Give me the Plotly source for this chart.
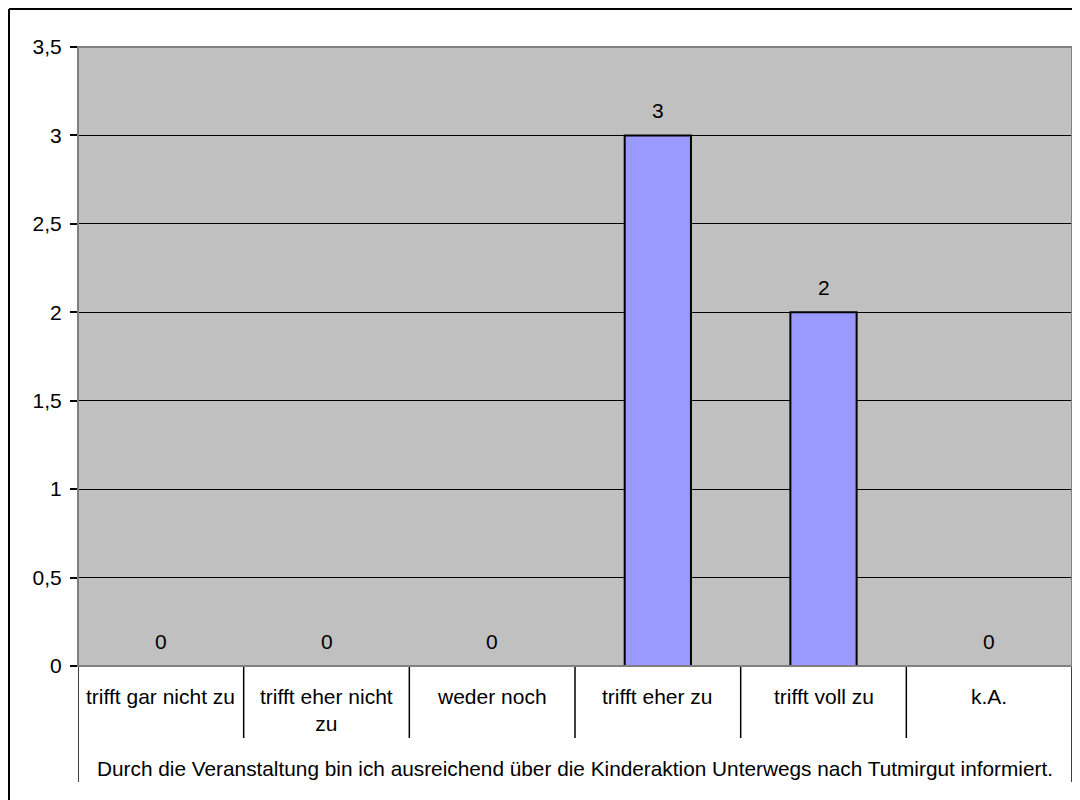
import plotly.graph_objects as go

categories = ["trifft gar nicht zu", "trifft eher nicht<br>zu", "weder noch",
              "trifft eher zu", "trifft voll zu", "k.A."]
values = [0, 0, 0, 3, 2, 0]
group_label = "Durch die Veranstaltung bin ich ausreichend über die Kinderaktion Unterwegs nach Tutmirgut informiert."
y_ticks = [0, 0.5, 1, 1.5, 2, 2.5, 3, 3.5]

FONT = "Liberation Sans, Arial, sans-serif"
FS = 21
OFF = 8  # page offset of the figure (body margin)
W, H = 1080, 800
ML, MR, MT, MB = 70, 16, 39, 142
PH = H - MT - MB
PW = W - ML - MR

def py(page):  # page pixel y -> paper y
    return (H - MB - (page - OFF)) / PH

def px(page):  # page pixel x -> paper x
    return ((page - OFF) - ML) / PW

idx = list(range(len(categories)))

fig = go.Figure()
fig.add_trace(go.Bar(
    x=idx, y=values, width=0.4,
    marker=dict(color="#9999FF", line=dict(color="black", width=2)),
    hoverinfo="skip",
))

annotations = []
for i, v in zip(idx, values):
    annotations.append(dict(x=i, y=v, xref="x", yref="y", text=str(v), showarrow=False,
                            yshift=25, font=dict(size=FS, color="black", family=FONT)))
for i, c in zip(idx, categories):
    annotations.append(dict(x=i, y=py(683), xref="x", yref="paper", text=c, showarrow=False,
                            yanchor="top", font=dict(size=FS, color="black", family=FONT)))
annotations.append(dict(x=0.5, y=py(768), xref="paper", yref="paper", text=group_label,
                        showarrow=False, yanchor="middle",
                        font=dict(size=20.8, color="black", family=FONT)))

shapes = []
n = len(categories)
for k in range(n + 1):
    xb = k - 0.5
    bottom = 782 if k in (0, n) else 738
    shapes.append(dict(type="line", xref="x", yref="paper", x0=xb, x1=xb,
                       y0=0, y1=py(bottom), line=dict(color="black", width=1.5)))
# plot area border
shapes.append(dict(type="rect", xref="paper", yref="paper", x0=0, x1=1, y0=0, y1=1,
                   line=dict(color="#808080", width=2)))
# outer chart border: left and top edges
shapes.append(dict(type="line", xref="paper", yref="paper",
                   x0=px(9), x1=px(9), y0=py(9), y1=py(OFF + H),
                   line=dict(color="black", width=2)))
shapes.append(dict(type="line", xref="paper", yref="paper",
                   x0=px(9), x1=px(OFF + W), y0=py(9), y1=py(9),
                   line=dict(color="black", width=2)))

fig.update_layout(
    width=W, height=H,
    margin=dict(l=ML, r=MR, t=MT, b=MB, pad=0),
    paper_bgcolor="white", plot_bgcolor="#C0C0C0",
    showlegend=False, separators=",.",
    font=dict(family=FONT, size=FS, color="black"),
    annotations=annotations, shapes=shapes,
    bargap=0.6,
)
fig.update_xaxes(range=[-0.5, n - 0.5], showticklabels=False, showgrid=False,
                 zeroline=False, showline=False, ticks="", fixedrange=True)
fig.update_yaxes(range=[0, 3.5], tickvals=y_ticks, tickformat=".1~f",
                 showgrid=True, gridcolor="black", gridwidth=1,
                 zeroline=True, zerolinecolor="black", zerolinewidth=2,
                 showline=False, ticks="outside", ticklen=7, tickcolor="black",
                 tickwidth=1.5, ticklabelstandoff=4,
                 tickfont=dict(size=FS, color="black", family=FONT), fixedrange=True)

fig.write_html("out.html")
